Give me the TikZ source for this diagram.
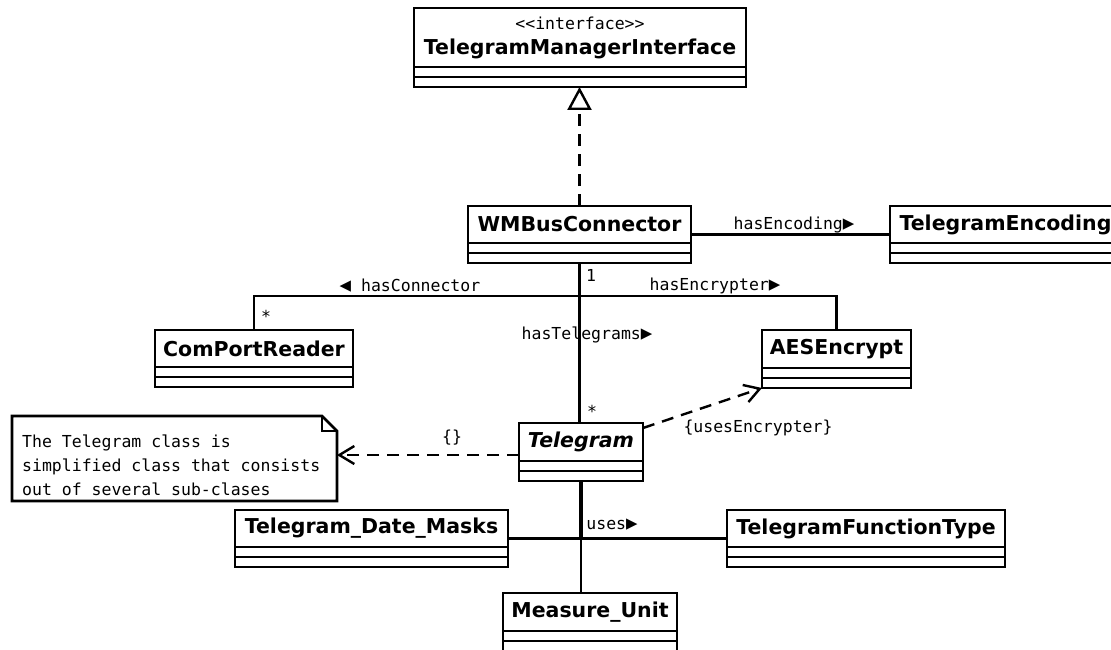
\documentclass[tikz,border=0pt]{standalone}
\usepackage{fontspec}
\setmainfont{DejaVu Sans}
\newfontfamily\mono{DejaVu Sans Mono}
\usetikzlibrary{arrows.meta,fit,calc}
\tikzset{
  clsname/.style={draw, line width=2.8pt, inner sep=0pt, outer sep=0pt, anchor=north west,
    font=\fontsize{20.5}{23}\selectfont\bfseries},
  clscomp/.style={draw, line width=2.8pt, inner sep=0pt, outer sep=0pt, anchor=north west, minimum height=10pt},
  assoc/.style={line width=2.4pt},
  dep/.style={line width=2.4pt, dash pattern=on 12pt off 8pt,
    -{Straight Barb[length=15pt,width=18pt,line width=2.4pt]}},
  realize/.style={line width=2.4pt, dash pattern=on 12pt off 8pt,
    -{Triangle[open,length=23pt,width=24pt,line width=2.4pt]}},
  lbl/.style={font=\mono\fontsize{16.5}{20}\selectfont, inner sep=0pt},
  notetext/.style={font=\mono\fontsize{16.5}{24}\selectfont, inner sep=0pt, align=left, anchor=west},
}
\newcommand\rtri{{\fontsize{19}{19}\selectfont▶}}
\newcommand\ltri{{\fontsize{19}{19}\selectfont◀}}
% #1 name, #2 left, #3 top, #4 right, #5 name height, #6 text, #7 extra style
\newcommand\umlcls[7]{%
  \node[clsname, minimum width={(#4)-(#2)}, minimum height={#5}, #7] (#1n) at (#2,#3) {#6};
  \node[clscomp, minimum width={(#4)-(#2)}] (#1a) at (#1n.south west) {};
  \node[clscomp, minimum width={(#4)-(#2)}] (#1b) at (#1a.south west) {};
  \node[fit=(#1n)(#1b), inner sep=0pt, outer sep=0pt] (#1) {};
}
\begin{document}
\begin{tikzpicture}[x=1pt,y=-1pt]
\fill[white] (0,0) rectangle (1111,650);
\useasboundingbox (0,0) rectangle (1111,650);
\begin{scope}
\clip (0,0) rectangle (1111,650);

\umlcls{tmi}{414}{8}{746}{59}{{\mono\mdseries\fontsize{16.5}{20}\selectfont <<interface>>}\\[2pt]TelegramManagerInterface}{align=center}
\umlcls{wmb}{468}{206}{691}{37}{WMBusConnector}{}
\umlcls{te}{890}{206}{1121}{37}{TelegramEncoding}{}
\umlcls{cpr}{155}{330}{353}{37}{ComPortReader}{}
\umlcls{aes}{762}{330}{911}{38}{AESEncrypt}{}
\umlcls{tel}{519}{423}{643}{38}{Telegram}{font=\fontsize{20.5}{23}\selectfont\bfseries\itshape}
\umlcls{tdm}{235}{510}{508}{37}{Telegram\_Date\_Masks}{}
\umlcls{tft}{727}{510}{1005}{37}{TelegramFunctionType}{}
\umlcls{mu}{503}{593}{677}{38}{Measure\_Unit}{}

% note
\node[minimum width=325pt, minimum height=85pt, inner sep=0pt, outer sep=0pt, anchor=north west] (note) at (12,416) {};
\draw[line width=2.8pt, line join=miter] (note.north west) -- ([xshift=-15pt]note.north east) -- ([yshift=-15pt]note.north east) -- (note.south east) -- (note.south west) -- cycle;
\draw[line width=1.4pt] ([xshift=-15pt]note.north east) |- ([yshift=-15pt]note.north east);
\node[notetext] (notetxt) at (22,465) {The Telegram class is\\simplified class that consists\\out of several sub-clases};

% realization
\draw[realize] (wmb.north) -- (wmb.north |- tmi.south);

% associations
\draw[assoc] (wmb.east) -- (te.west);
\draw[assoc] (wmb.south) -- (wmb.south |- tel.north);
\draw[assoc] (wmb.south) -- ++(0,33) coordinate (jn) -| (cpr.north);
\draw[assoc] (jn) -| (aes.north);

% dependencies
\draw[dep] ([yshift=-5pt]tel.north east) -- (aes.south west);
\draw[dep] ([yshift=-3pt]tel.west) -- ([yshift=-3pt]tel.west -| note.east);

% uses
\draw[assoc, line width=3.6pt] (tel.south) -- (tel.south |- tdm.east) coordinate (uj);
\draw[assoc] (tdm.east) -- (tft.west);
\draw[assoc] (uj) -- (uj |- mu.north);

% labels
\node[lbl] (lenc) at (794,225) {hasEncoding\rtri};
\node[lbl] (lcon) at (410,286) {\ltri{} hasConnector};
\node[lbl] (lcry) at (715,286) {hasEncrypter\rtri};
\node[lbl] (ltel) at (587,335) {hasTelegrams\rtri};
\node[lbl] (lone) at (591,275) {1};
\node[lbl] (lst1) at (266,316) {*};
\node[lbl] (lst2) at (592,411) {*};
\node[lbl] (luse) at (758,428) {\{usesEncrypter\}};
\node[lbl] (lemp) at (452,438) {\{\}};
\node[lbl] (luses) at (612,525) {uses\rtri};
\end{scope}
\end{tikzpicture}
\end{document}
